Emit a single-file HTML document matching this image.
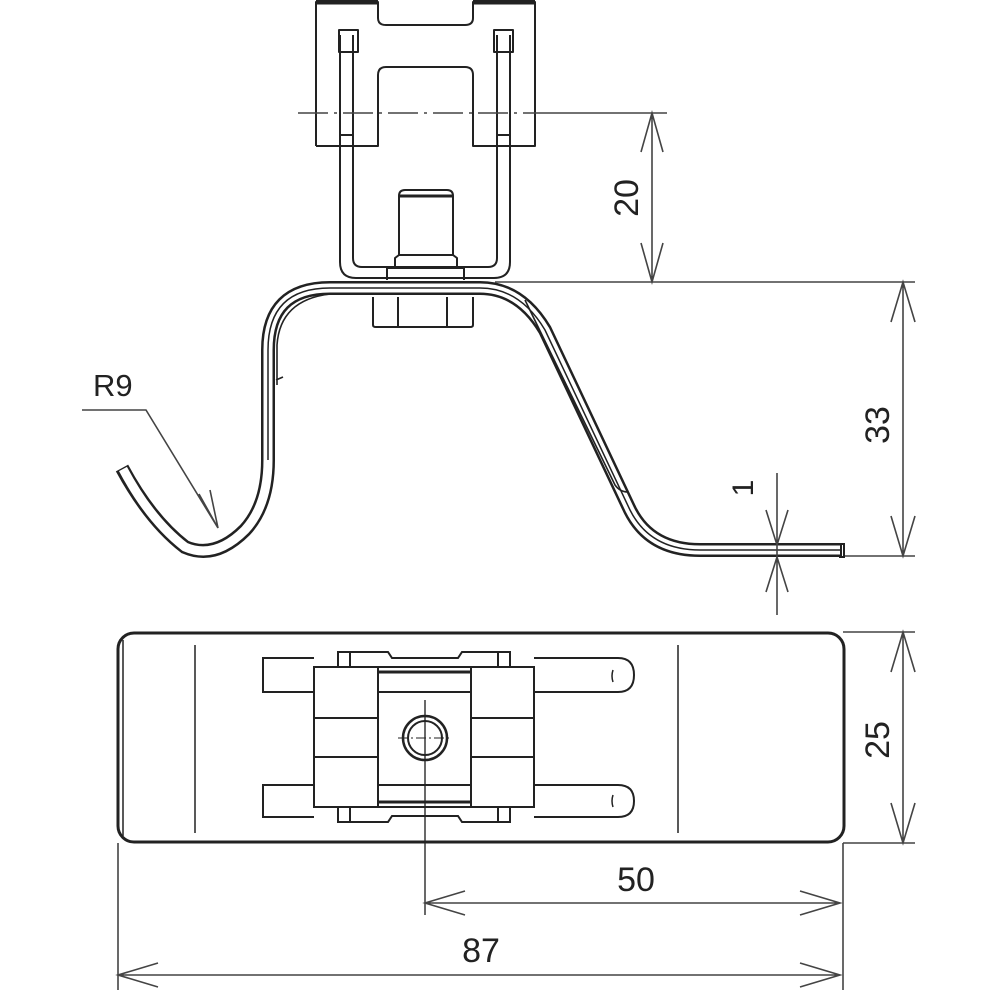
<!DOCTYPE html>
<html><head><meta charset="utf-8"><style>
html,body{margin:0;padding:0;background:#fff}
svg{display:block}
text{font-family:"Liberation Sans","DejaVu Sans",sans-serif;fill:#222}
</style></head><body>
<svg width="1000" height="1000" viewBox="0 0 1000 1000" xmlns="http://www.w3.org/2000/svg">
<g fill="none" stroke="#222" stroke-width="2" stroke-linejoin="round">
<path d="M316 146 V2 H378 V18 Q378 25 386 25 H465 Q473 25 473 18 V2 H535 V146 H473 V75 Q473 67 465 67 H386 Q378 67 378 75 V146 H316"/>
<path d="M316 2 H378 M473 2 H535" stroke-width="5"/>
<rect x="339" y="30" width="19" height="22"/>
<rect x="494" y="30" width="19" height="22"/>
<path d="M340 35 V262 Q340 278 356 278 H494 Q510 278 510 262 V35"/>
<path d="M353 35 V258 Q353 267 362 267 H488 Q497 267 497 258 V35"/>
<path d="M340 135 H353 M497 135 H510"/>
<path d="M399 255 V196 Q399 190 405 190 H447 Q453 190 453 196 V255"/>
<path d="M399 196 H453" stroke-width="3"/>
<path d="M395 268 V258 L399 255 H453 L457 258 V268"/>
<path d="M387 280 V268 H464 V280"/>
<path d="M373 297 V325 Q373 327 376 327 H470 Q473 327 473 325 V297 M398 297 V327 M447 297 V327"/>
</g>
<path d="M122 468 Q150 520 185 547 Q215 560 245 530 Q268 505 268 460 V350 Q268 288 330 288 H480 Q520 288 545 330 L630 510 Q650 550 700 550 H842" fill="none" stroke="#222" stroke-width="14" stroke-linecap="butt"/>
<path d="M123 469 Q150 520 185 547 Q215 560 245 530 Q268 505 268 460 V350 Q268 288 330 288 H480 Q520 288 545 330 L630 510 Q650 550 700 550 H840" fill="none" stroke="#fff" stroke-width="9"/>
<path d="M268 460 V350 Q268 288 330 288 H480 Q520 288 545 330 L630 510 Q650 550 700 550 H840" fill="none" stroke="#222" stroke-width="1.5"/>
<path d="M277 385 V345 Q280 300 330 294 M276 380 L283 377" fill="none" stroke="#222" stroke-width="1.6"/>
<path d="M525 300 L615 485 Q620 492 628 492" fill="none" stroke="#222" stroke-width="1.6"/>
<path d="M839 544 H844 V557 H839" fill="none" stroke="#222" stroke-width="2"/>
<g fill="none" stroke="#444" stroke-width="1.6">
<path d="M298 113 H536" stroke-dasharray="30 6 3 6"/>
<path d="M536 113 H667"/>
<path d="M495 282 H915 M845 556 H915"/>
<path d="M652 113 V282 M641 152 L652 113 L663 152 M641 243 L652 282 L663 243"/>
<path d="M903 282 V556 M891 322 L903 282 L915 322 M891 516 L903 556 L915 516"/>
<path d="M777 473 V615 M766 510 L777 545 L788 510 M766 592 L777 557 L788 592"/>
<path d="M82 410 H146 L218 528 M199 494 L218 528 L210 490"/>
<path d="M843 632 H915 M843 843 H915 M903 632 V843 M891 672 L903 632 L915 672 M891 803 L903 843 L915 803"/>
<path d="M425 700 V915 M843 843 V990 M118 843 V990"/>
<path d="M425 903 H840 M465 891 L425 903 L465 915 M800 891 L840 903 L800 915"/>
<path d="M118 975 H840 M158 963 L118 975 L158 987 M800 963 L840 975 L800 987"/>
</g>
<g fill="none" stroke="#222" stroke-width="2">
<rect x="118" y="633" width="726" height="209" rx="16" stroke-width="3"/>
<path d="M123 640 V836" stroke-width="1.5"/>
<path d="M195 645 V833 M678 645 V833" stroke-width="1.5"/>
<path d="M314 658 H263 V692 H314 M534 658 H618 Q634 658 634 675 Q634 692 618 692 H534"/>
<path d="M314 785 H263 V817 H314 M534 785 H618 Q634 785 634 801 Q634 817 618 817 H534"/>
<path d="M613 670 Q611 676 613 682 M613 795 Q611 801 613 807" stroke-width="1.5"/>
<rect x="314" y="667" width="220" height="140"/>
<path d="M378 667 V807 M471 667 V807"/>
<path d="M314 718 H378 M314 757 H378 M471 718 H534 M471 757 H534"/>
<path d="M378 692 H471 M378 785 H471"/>
<path d="M378 672 H471 M378 802 H471" stroke-width="3"/>
<path d="M338 667 V652 H388 L392 658 H458 L462 652 H510 V667 M350 652 V667 M498 652 V667"/>
<path d="M338 807 V822 H388 L392 816 H458 L462 822 H510 V807 M350 807 V822 M498 807 V822"/>
<circle cx="425" cy="738" r="22" stroke-width="2.5"/>
<circle cx="425" cy="738" r="17"/>
<path d="M398 738 H452" stroke-width="1" stroke-dasharray="10 3 2 3"/>
</g>
<text x="93" y="396" font-size="31">R9</text>
<text transform="translate(638 198) rotate(-90)" font-size="34" text-anchor="middle">20</text>
<text transform="translate(889 425) rotate(-90)" font-size="34" text-anchor="middle">33</text>
<text transform="translate(753 488) rotate(-90)" font-size="30" text-anchor="middle">1</text>
<text transform="translate(889 740) rotate(-90)" font-size="34" text-anchor="middle">25</text>
<text x="636" y="891" font-size="34" text-anchor="middle">50</text>
<text x="481" y="962" font-size="34" text-anchor="middle">87</text>
</svg>
</body></html>
